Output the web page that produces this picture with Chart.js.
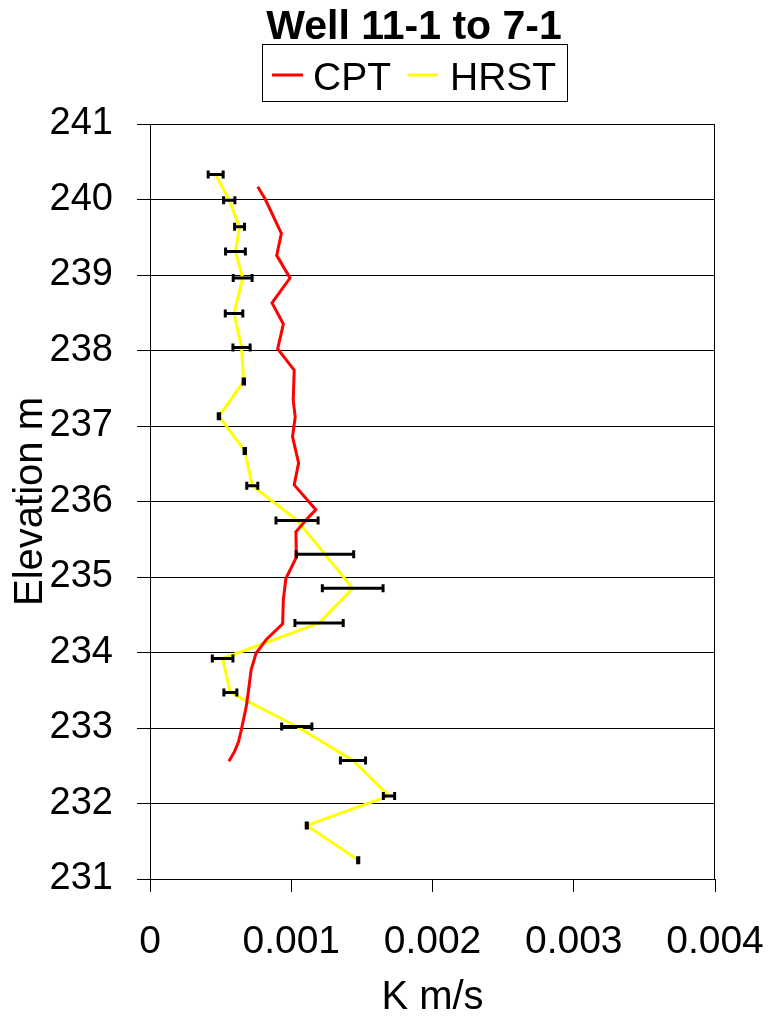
<!DOCTYPE html>
<html>
<head>
<meta charset="utf-8">
<script src="https://cdn.jsdelivr.net/npm/chart.js@4"></script>
<style>
html,body{margin:0;padding:0;background:#fff;}
#wrap{width:771px;height:1022px;position:relative;}
</style>
</head>
<body>
<div id="wrap"><canvas id="c"></canvas></div>
<script>
// ---- data ----
const chartTitle = 'Well 11-1 to 7-1';
const xAxisTitle = 'K m/s';
const yAxisTitle = 'Elevation m';
const xTickLabels = ['0', '0.001', '0.002', '0.003', '0.004'];

const cptK = [0.000763, 0.000817, 0.000930, 0.000897, 0.000991, 0.000864, 0.000944, 0.000904,
  0.001021, 0.001014, 0.001028, 0.001009, 0.001052, 0.001021, 0.001174, 0.001127, 0.001033,
  0.001035, 0.001033, 0.000962, 0.000944, 0.000939, 0.000822, 0.000751, 0.000716, 0.000692,
  0.000681, 0.000646, 0.000627, 0.000599, 0.000559];
const cptElev = [240.17, 240.00, 239.55, 239.26, 238.96, 238.63, 238.35, 238.02,
  237.74, 237.34, 237.12, 236.86, 236.51, 236.22, 235.89, 235.80, 235.60,
  235.40, 235.25, 234.98, 234.70, 234.38, 234.17, 233.99, 233.77, 233.42,
  233.28, 232.97, 232.82, 232.69, 232.56];

const hrstK = [0.000465, 0.000561, 0.000634, 0.000605, 0.000656, 0.000595, 0.000648, 0.000664,
  0.000488, 0.000671, 0.000724, 0.001041, 0.001239, 0.001435, 0.001197, 0.000514, 0.000569,
  0.001039, 0.001437, 0.001692, 0.001110, 0.001474];
const hrstElev = [240.33, 239.99, 239.64, 239.31, 238.96, 238.49, 238.04, 237.59,
  237.13, 236.67, 236.21, 235.75, 235.30, 234.85, 234.39, 233.92, 233.47,
  233.02, 232.57, 232.10, 231.71, 231.25];
const hrstErr = [0.000053, 0.000040, 0.000035, 0.000070, 0.000067, 0.000062, 0.000061, 0.000005,
  0.000005, 0.000005, 0.000039, 0.000149, 0.000203, 0.000215, 0.000171, 0.000073, 0.000046,
  0.000107, 0.000089, 0.000040, 0.000004, 0.000004];

const FONT = '"Liberation Sans", Arial, sans-serif';

const cptPts = cptK.map((k, i) => ({ x: k, y: cptElev[i] }));
const hrstPts = hrstK.map((k, i) => ({ x: k, y: hrstElev[i], e: hrstErr[i] }));

function zeroPad(s) { s.paddingLeft = 0; s.paddingRight = 0; s.paddingTop = 0; s.paddingBottom = 0; }

// error bars + frame + title + legend
const decor = {
  id: 'decor',
  afterDatasetsDraw(chart) {
    const ctx = chart.ctx;
    const xs = chart.scales.x, ys = chart.scales.y;
    ctx.save();
    ctx.strokeStyle = '#000';
    ctx.lineWidth = 3;
    hrstPts.forEach(p => {
      const y = ys.getPixelForValue(p.y);
      const x1 = xs.getPixelForValue(p.x - p.e);
      const x2 = xs.getPixelForValue(p.x + p.e);
      ctx.beginPath();
      ctx.moveTo(x1, y); ctx.lineTo(x2, y);
      ctx.moveTo(x1, y - 4); ctx.lineTo(x1, y + 4);
      ctx.moveTo(x2, y - 4); ctx.lineTo(x2, y + 4);
      ctx.stroke();
    });
    ctx.restore();
  },
  afterDraw(chart) {
    const ctx = chart.ctx;
    const a = chart.chartArea;
    ctx.save();
    // plot frame (right edge)
    ctx.strokeStyle = '#000';
    ctx.lineWidth = 1;
    ctx.beginPath();
    ctx.moveTo(Math.round(a.right) - 0.5, a.top);
    ctx.lineTo(Math.round(a.right) - 0.5, a.bottom);
    ctx.stroke();
    // title
    ctx.fillStyle = '#000';
    ctx.font = 'bold 41px ' + FONT;
    ctx.textAlign = 'center';
    ctx.textBaseline = 'alphabetic';
    ctx.fillText(chartTitle, 414, 39);
    // legend
    ctx.strokeStyle = '#000';
    ctx.lineWidth = 1;
    ctx.strokeRect(262.5, 44.5, 305, 57);
    ctx.font = '39px ' + FONT;
    ctx.textAlign = 'left';
    const ds = chart.data.datasets;
    const items = [{ x0: 272, x1: 303, tx: 313 }, { x0: 408, x1: 438, tx: 450 }];
    ds.forEach((d, i) => {
      const it = items[i];
      ctx.strokeStyle = d.borderColor;
      ctx.lineWidth = 3;
      ctx.beginPath();
      ctx.moveTo(it.x0, 75); ctx.lineTo(it.x1, 75);
      ctx.stroke();
      ctx.fillStyle = '#000';
      ctx.fillText(d.label, it.tx, 90);
    });
    ctx.restore();
  }
};

new Chart(document.getElementById('c'), {
  type: 'scatter',
  data: {
    datasets: [
      { label: 'CPT', data: cptPts, showLine: true, borderColor: '#FF0000', borderWidth: 3,
        pointRadius: 0, tension: 0, fill: false },
      { label: 'HRST', data: hrstPts, showLine: true, borderColor: '#FFFF00', borderWidth: 3,
        pointRadius: 0, tension: 0, fill: false }
    ]
  },
  options: {
    responsive: true,
    maintainAspectRatio: false,
    animation: false,
    events: [],
    layout: { padding: { left: 0, right: 56, top: 124, bottom: 0 } },
    plugins: { legend: { display: false }, title: { display: false }, tooltip: { enabled: false } },
    scales: {
      x: {
        type: 'linear', min: 0, max: 0.004,
        afterFit(s) { s.height = 143; zeroPad(s); },
        ticks: { stepSize: 0.001, color: '#000', font: { family: FONT, size: 39 }, padding: 27,
          maxRotation: 0, callback: (v, i) => xTickLabels[i] },
        grid: { drawOnChartArea: false, drawTicks: true, tickLength: 13, color: '#000', lineWidth: 1 },
        border: { display: true, color: '#000', width: 1 },
        title: { display: true, text: xAxisTitle, color: '#000', font: { family: FONT, size: 40 },
          padding: { top: 0, bottom: 0 } }
      },
      y: {
        type: 'linear', min: 231, max: 241,
        afterFit(s) { s.width = 150; zeroPad(s); },
        ticks: { stepSize: 1, color: '#000', font: { family: FONT, size: 38 }, padding: 24,
          callback: v => String(v) },
        grid: { drawOnChartArea: true, drawTicks: true, tickLength: 13, color: '#000', lineWidth: 1 },
        border: { display: true, color: '#000', width: 1 },
        title: { display: true, text: yAxisTitle, color: '#000', font: { family: FONT, size: 40 },
          padding: { top: 7, bottom: 0 } }
      }
    }
  },
  plugins: [decor]
});
</script>
</body>
</html>
